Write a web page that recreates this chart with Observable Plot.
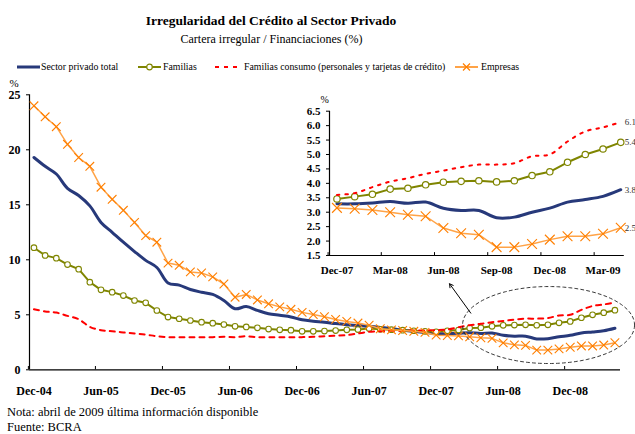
<!DOCTYPE html>
<html><head><meta charset="utf-8">
<script src="https://cdn.jsdelivr.net/npm/d3@7"></script>
<script src="https://cdn.jsdelivr.net/npm/@observablehq/plot@0.6"></script>
<style>
body{margin:0;background:#fff;font-family:"Liberation Serif",serif;color:#000;}
#wrap{position:relative;width:635px;height:434px;overflow:hidden;background:#fff;}
.abs{position:absolute;white-space:nowrap;line-height:1;}
.sw{position:absolute;}
</style></head><body><div id="wrap">
<div class="abs" style="left:0;width:542px;text-align:center;top:13.5px;font-size:13.5px;font-weight:bold;">Irregularidad del Crédito al Sector Privado</div>
<div class="abs" style="left:0;width:543px;text-align:center;top:33px;font-size:12px;">Cartera irregular / Financiaciones (%)</div>
<div id="legend"></div>
<div id="main" style="position:absolute;left:0;top:80px;"></div>
<div id="inset" style="position:absolute;left:290px;top:88px;"></div>
<div class="abs" style="left:7px;top:405.5px;font-size:12.5px;">Nota: abril de 2009 última información disponible</div>
<div class="abs" style="left:7px;top:420.5px;font-size:12.5px;">Fuente: BCRA</div>
</div>
<script>
// ---- data ----
const months = ["Dec-04","Jan-05","Feb-05","Mar-05","Apr-05","May-05","Jun-05","Jul-05","Aug-05","Sep-05","Oct-05","Nov-05",
"Dec-05","Jan-06","Feb-06","Mar-06","Apr-06","May-06","Jun-06","Jul-06","Aug-06","Sep-06","Oct-06","Nov-06",
"Dec-06","Jan-07","Feb-07","Mar-07","Apr-07","May-07","Jun-07","Jul-07","Aug-07","Sep-07","Oct-07","Nov-07",
"Dec-07","Jan-08","Feb-08","Mar-08","Apr-08","May-08","Jun-08","Jul-08","Aug-08","Sep-08","Oct-08","Nov-08",
"Dec-08","Jan-09","Feb-09","Mar-09","Apr-09"];
const mainTickLabels = ["Dec-04","Jun-05","Dec-05","Jun-06","Dec-06","Jun-07","Dec-07","Jun-08","Dec-08"];
const insetTickLabels = ["Dec-07","Mar-08","Jun-08","Sep-08","Dec-08","Mar-09"];
const mainYTicks = [0,5,10,15,20,25];
const insetYTicks = [1.5,2,2.5,3,3.5,4,4.5,5,5.5,6,6.5];
const seriesNames = ["Sector privado total","Familias","Familias consumo (personales y tarjetas de crédito)","Empresas"];

const sectorTotal = [19.3,18.5,17.8,16.5,15.85,14.9,13.4,12.5,11.6,10.75,9.95,9.3,
 7.9,7.7,7.3,7.05,6.85,6.3,5.55,5.75,5.4,5.1,4.95,4.8,
 4.55,4.42,4.33,4.2,4.1,4.03,3.95,3.85,3.75,3.6,3.5,3.4,
 3.29,3.29,3.32,3.37,3.31,3.35,3.14,3.06,3.06,2.81,2.83,3.0,
 3.14,3.35,3.44,3.55,3.78];
const familias = [11.1,10.4,10.15,9.57,9.15,7.97,7.27,7.06,6.75,6.3,6.09,5.39,
 4.79,4.64,4.48,4.33,4.24,4.12,3.95,3.9,3.82,3.7,3.63,3.6,
 3.5,3.5,3.52,3.57,3.63,3.66,3.75,3.68,3.65,3.6,3.55,3.5,
 3.46,3.54,3.62,3.80,3.83,3.95,4.04,4.07,4.09,4.05,4.09,4.27,
 4.40,4.73,5.0,5.19,5.42];
const consumo = [5.5,5.3,5.2,4.9,4.6,3.9,3.6,3.5,3.4,3.3,3.2,3.05,
 2.97,2.95,2.95,2.95,2.97,3.0,2.97,3.05,2.97,2.97,2.97,2.97,
 2.97,3.0,3.05,3.1,3.15,3.3,3.45,3.5,3.55,3.55,3.58,3.58,
 3.60,3.66,3.87,4.06,4.18,4.33,4.44,4.56,4.65,4.65,4.70,4.94,
 5.0,5.45,5.80,5.94,6.12];
const empresas = [24.0,23.0,22.1,20.5,19.3,18.5,16.6,15.5,14.5,13.4,12.2,11.6,
 9.7,9.5,8.9,8.8,8.45,7.8,6.6,6.85,6.35,6.0,5.72,5.5,
 5.22,5.03,4.82,4.58,4.4,4.25,4.05,3.73,3.63,3.57,3.5,3.4,
 3.15,3.12,3.08,3.0,2.91,2.86,2.45,2.27,2.22,1.79,1.79,1.90,
 2.05,2.17,2.17,2.25,2.46];

// ---- styles ----
const C = {blue:"#27397A", olive:"#7F8500", red:"#FF0000", orangeLine:"#FFA347", orangeMark:"#FF7F00"};
const FONT = "Liberation Serif";

const rows = arr => arr.map((v,i)=>({i, v}));
const S = rows(sectorTotal), F = rows(familias), R = rows(consumo), E = rows(empresas);
const startInset = months.indexOf("Dec-07");
const sub = arr => arr.slice(startInset).map((v,m)=>({m, v, label: months[startInset+m]}));
const Si = sub(sectorTotal), Fi = sub(familias), Ri = sub(consumo), Ei = sub(empresas);

// ---- legend ----
const lg = document.getElementById("legend");
const legendItems = [
 {sx:17, tx:41, svg:`<line x1="0" y1="5" x2="23" y2="5" stroke="${C.blue}" stroke-width="3"/>`},
 {sx:138, tx:163, svg:`<line x1="0" y1="5" x2="23" y2="5" stroke="${C.olive}" stroke-width="2"/><circle cx="11.5" cy="5" r="2.8" fill="#fff" stroke="${C.olive}" stroke-width="1.2"/>`},
 {sx:215, tx:244, svg:`<line x1="0" y1="5" x2="23" y2="5" stroke="${C.red}" stroke-width="2" stroke-dasharray="4,5"/>`},
 {sx:455, tx:481, svg:`<line x1="0" y1="5" x2="23" y2="5" stroke="${C.orangeLine}" stroke-width="2"/><path d="M8 1.5L15 8.5M15 1.5L8 8.5" stroke="${C.orangeMark}" stroke-width="1.2"/>`}
];
legendItems.forEach((it,k)=>{
  lg.insertAdjacentHTML("beforeend",
   `<svg class="sw" style="left:${it.sx}px;top:61.5px" width="23" height="10">${it.svg}</svg>` +
   `<div class="abs" style="left:${it.tx}px;top:61.5px;font-size:9.8px;">${seriesNames[k]}</div>`);
});

// ---- main chart ----
const tickIdx = mainTickLabels.map(l => months.indexOf(l));
const ell = {cx:46.06, cy:4.07, rx:7.7, ry:3.5};
const ellPts = d3.range(0, 361, 4).map(a => ({x: ell.cx + ell.rx*Math.cos(a*Math.PI/180), y: ell.cy + ell.ry*Math.sin(a*Math.PI/180)}));
const arrowData = [{x1:39.1, y1:5.15, x2:37.2, y2:7.82}];

const main = Plot.plot({
  width: 635, height: 320,
  marginTop: 14.3, marginBottom: 30.7, marginLeft: 29, marginRight: 15,
  style: {fontFamily: FONT, background: "transparent", overflow: "visible", color: "#000"},
  x: {domain: [-0.4, 52.5], axis: null},
  y: {domain: [0, 25], axis: null},
  marks: [
    Plot.axisY({ticks: mainYTicks, tickSize: 3, tickPadding: 6, fontSize: 12, fontWeight: "bold", label: null}),
    Plot.ruleX([-0.4], {stroke: "#000", strokeWidth: 1.2}),
    Plot.ruleY([0], {stroke: "#000", strokeWidth: 1.2}),
    Plot.ruleX(tickIdx, {x: d => d - 0.5, y1: 0, y2: 0.3, stroke: "#000"}),
    Plot.text(tickIdx, {x: d => d, y: 0, text: d => months[d], dy: 21, fontSize: 12, fontWeight: "bold"}),
    Plot.text(["%"], {frameAnchor: "top-left", dx: -20, dy: -16, fontSize: 11, textAnchor: "start"}),
    Plot.line(S, {x: "i", y: "v", stroke: C.blue, strokeWidth: 3, curve: "catmull-rom"}),
    Plot.line(F, {x: "i", y: "v", stroke: C.olive, strokeWidth: 2}),
    Plot.dot(F, {x: "i", y: "v", r: 2.8, fill: "#fff", stroke: C.olive, strokeWidth: 1.1}),
    Plot.line(R, {x: "i", y: "v", stroke: C.red, strokeWidth: 2, strokeDasharray: "5,5", curve: "catmull-rom"}),
    Plot.line(E, {x: "i", y: "v", stroke: C.orangeLine, strokeWidth: 1.5}),
    Plot.dot(E, {x: "i", y: "v", symbol: "times", r: 4, stroke: C.orangeMark, strokeWidth: 1.1}),
    Plot.line(ellPts, {x: "x", y: "y", stroke: "#222", strokeWidth: 0.9, strokeDasharray: "3,3", curve: "linear-closed"}),
    Plot.arrow(arrowData, {x1: "x1", y1: "y1", x2: "x2", y2: "y2", stroke: "#000", strokeWidth: 1, headLength: 6})
  ]
});
document.getElementById("main").append(main);

// ---- inset ----
const insetTickIdx = insetTickLabels.map(l => months.indexOf(l) - startInset);
const endLabels = [Ri, Fi, Si, Ei].map(a => a[a.length - 1]);
const inset = Plot.plot({
  width: 345, height: 195,
  marginTop: 22.7, marginBottom: 28, marginLeft: 39, marginRight: 11.2,
  style: {fontFamily: FONT, background: "transparent", overflow: "visible", color: "#000"},
  x: {domain: [-0.42, 16.2], axis: null},
  y: {domain: [1.5, 6.5], axis: null},
  marks: [
    Plot.axisY({ticks: insetYTicks, tickFormat: d3.format(".1f"), tickSize: 3, tickPadding: 6, fontSize: 11, fontWeight: "bold", label: null}),
    Plot.ruleX([-0.42], {stroke: "#000", strokeWidth: 1.2}),
    Plot.ruleY([1.5], {stroke: "#000", strokeWidth: 1.2}),
    Plot.ruleX(insetTickIdx, {x: d => d - 0.5, y1: 1.5, y2: 1.6, stroke: "#000"}),
    Plot.text(insetTickIdx, {x: d => d, y: 1.5, text: d => insetTickLabels[insetTickIdx.indexOf(d)], dy: 15, fontSize: 11, fontWeight: "bold"}),
    Plot.text(["%"], {frameAnchor: "top-left", dx: -9, dy: -15, fontSize: 10, textAnchor: "start"}),
    Plot.line(Si, {x: "m", y: "v", stroke: C.blue, strokeWidth: 3, curve: "catmull-rom"}),
    Plot.line(Fi, {x: "m", y: "v", stroke: C.olive, strokeWidth: 2}),
    Plot.dot(Fi, {x: "m", y: "v", r: 3.2, fill: "#fff", stroke: C.olive, strokeWidth: 1.2}),
    Plot.line(Ri, {x: "m", y: "v", stroke: C.red, strokeWidth: 2, strokeDasharray: "2.5,6", curve: "catmull-rom"}),
    Plot.line(Ei, {x: "m", y: "v", stroke: C.orangeLine, strokeWidth: 1.5}),
    Plot.dot(Ei, {x: "m", y: "v", symbol: "times", r: 4.5, stroke: C.orangeMark, strokeWidth: 1.1}),
    Plot.text(endLabels, {x: "m", y: "v", text: d => d3.format(".1f")(d.v), dx: 4, textAnchor: "start", fontSize: 9, fill: "#333"})
  ]
});
document.getElementById("inset").append(inset);
</script>
</body></html>
